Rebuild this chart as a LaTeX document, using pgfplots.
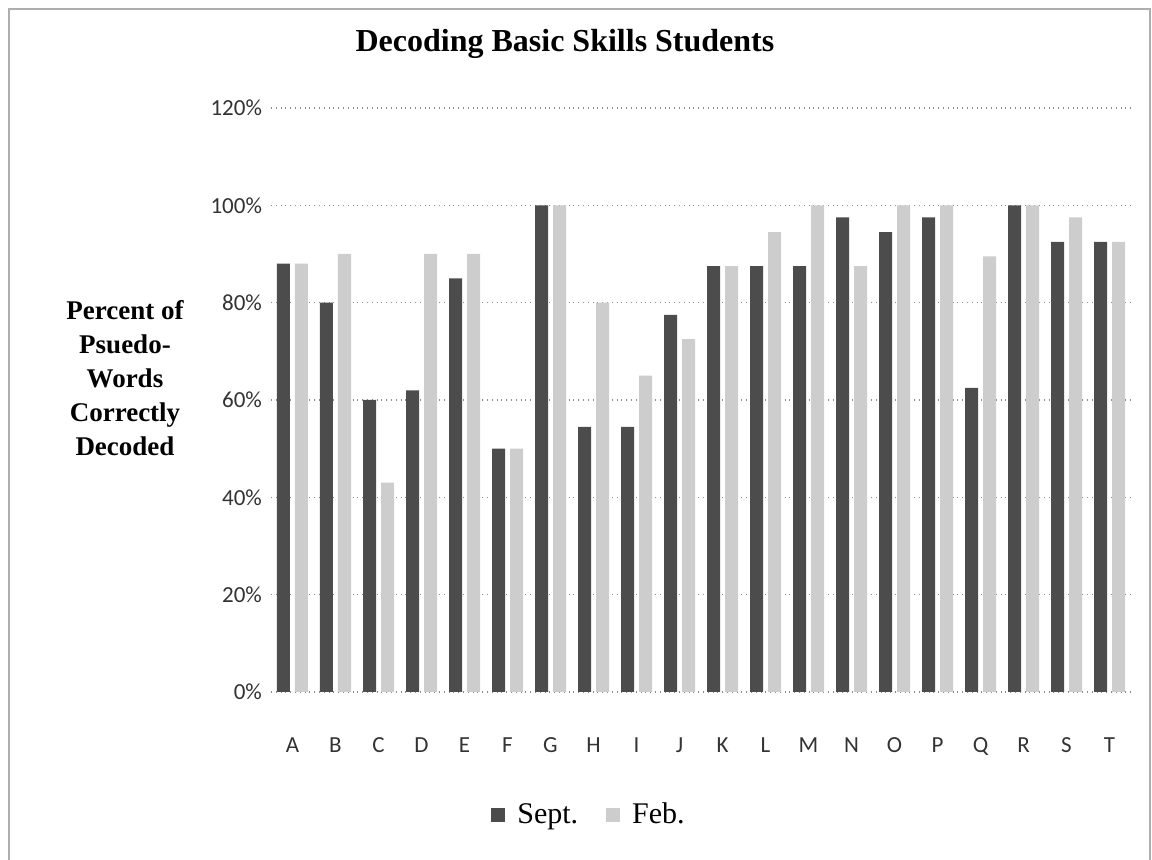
\documentclass[border=0pt]{standalone}
\usepackage{pgfplots}
\pgfplotsset{compat=1.18}
\usepackage{fontspec}
\setmainfont{Liberation Serif}
\newfontfamily\tickfont{Carlito}
\definecolor{septc}{HTML}{4C4C4C}
\definecolor{febc}{HTML}{CDCDCD}
\definecolor{gridc}{HTML}{8C8C8C}
\begin{document}
\begin{tikzpicture}[x=0.5pt,y=0.5pt]
% px -> tikz: ((px-271), (692-py)) in 0.5pt units
\useasboundingbox (-271,692) rectangle (881,-168);
\draw[gridc!70, line width=0.6pt] (-262,683) rectangle (879,-175);
\begin{axis}[
  at={(0,0)}, anchor=south west,
  scale only axis,
  width=430pt, height=292pt,
  xmin=-0.5, xmax=19.5,
  ymin=0, ymax=120,
  axis line style={draw=none},
  tick style={draw=none},
  ymajorgrids,
  grid style={gridc, dotted, line width=0.6pt},
  ytick={0,20,40,60,80,100,120},
  yticklabels={0\%,20\%,40\%,60\%,80\%,100\%,120\%},
  xtick={0,...,19},
  xticklabels={A,B,C,D,E,F,G,H,I,J,K,L,M,N,O,P,Q,R,S,T},
  yticklabel style={font=\tickfont\fontsize{11.5}{13}\selectfont, text=black!80, xshift=-1pt},
  xticklabel style={font=\tickfont\fontsize{11.5}{13}\selectfont, text=black!80, anchor=base, yshift=-26pt},
  ybar=0pt,
  bar width=6.5pt,
  legend style={draw=none, fill=none, at={(159.5pt,-61.5pt)}, anchor=center,
    legend columns=2, font=\fontsize{15}{17}\selectfont,
    /tikz/every odd column/.append style={column sep=4pt},
    /tikz/every even column/.append style={column sep=12pt}},
  legend image code/.code={\fill[#1] (0pt,-3.5pt) rectangle (7pt,3.5pt);},
]
\addplot[fill=septc, draw=none, bar shift=-4.5pt] coordinates {
(0,88) (1,80) (2,60) (3,62) (4,85) (5,50) (6,100) (7,54.5) (8,54.5) (9,77.5)
(10,87.5) (11,87.5) (12,87.5) (13,97.5) (14,94.5) (15,97.5) (16,62.5) (17,100) (18,92.5) (19,92.5)};
\addplot[fill=febc, draw=none, bar shift=4.5pt] coordinates {
(0,88) (1,90) (2,43) (3,90) (4,90) (5,50) (6,100) (7,80) (8,65) (9,72.5)
(10,87.5) (11,94.5) (12,100) (13,87.5) (14,100) (15,100) (16,89.5) (17,100) (18,97.5) (19,92.5)};
\legend{Sept.,Feb.}
\end{axis}
\node[font=\bfseries\fontsize{16}{19}\selectfont] at (294,648) {Decoding Basic Skills Students};
\node[font=\bfseries\fontsize{13.5}{17}\selectfont, align=center] at (-146,314) {Percent of\\Psuedo-\\Words\\Correctly\\Decoded};
\end{tikzpicture}
\end{document}
